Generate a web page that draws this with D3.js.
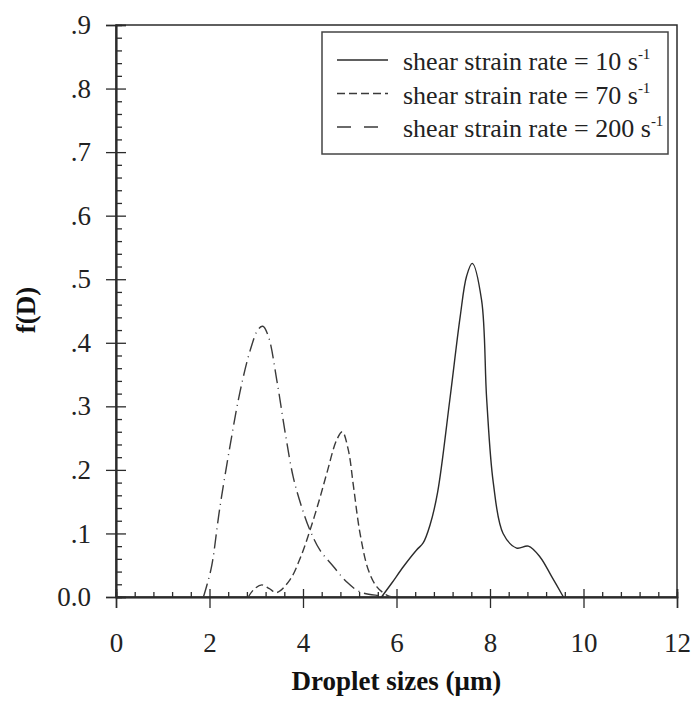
<!doctype html>
<html>
<head>
<meta charset="UTF-8" />
<script src="https://d3js.org/d3.v7.min.js"></script>
<style>
  body { margin: 0; background: #fff; }
  svg { display: block; font-family: "Liberation Serif", "Times New Roman", serif; }
</style>
</head>
<body>
<svg id="chart" width="694" height="705"></svg>
<script>
// droplet size distributions
const sizes10 = [5.68, 5.9, 6.15, 6.43, 6.57, 6.72, 6.88, 7.14, 7.36, 7.5, 7.62, 7.82, 7.93, 8.07, 8.28, 8.57, 8.82, 9.07, 9.32, 9.57];
const f10     = [0, 0.022, 0.048, 0.074, 0.085, 0.114, 0.165, 0.31, 0.44, 0.505, 0.525, 0.467, 0.31, 0.18, 0.10, 0.077, 0.08, 0.063, 0.032, 0];

const sizes70 = [2.83, 2.95, 3.12, 3.28, 3.44, 3.72, 3.95, 4.15, 4.35, 4.51, 4.72, 4.84, 4.97, 5.08, 5.22, 5.40, 5.58, 5.79, 5.9];
const f70     = [0, 0.012, 0.019, 0.013, 0.007, 0.027, 0.063, 0.105, 0.153, 0.195, 0.247, 0.26, 0.231, 0.174, 0.10, 0.042, 0.016, 0.003, 0];

const sizes200 = [1.87, 1.95, 2.05, 2.22, 2.44, 2.65, 2.87, 3.04, 3.14, 3.26, 3.44, 3.62, 3.79, 3.97, 4.15, 4.36, 4.65, 4.93, 5.22, 5.65, 5.86];
const f200     = [0, 0.02, 0.05, 0.14, 0.238, 0.322, 0.388, 0.421, 0.426, 0.41, 0.341, 0.258, 0.189, 0.142, 0.105, 0.074, 0.048, 0.024, 0.008, 0.002, 0];

const seriesRates = ["10", "70", "200"];
const xTicks = [0, 2, 4, 6, 8, 10, 12];
const yTicks = [0, 0.1, 0.2, 0.3, 0.4, 0.5, 0.6, 0.7, 0.8, 0.9];
const yTickLabels = ["0.0", ".1", ".2", ".3", ".4", ".5", ".6", ".7", ".8", ".9"];

(function(){
  "use strict";

  const svg = d3.select("#chart");
  const ink = "#2b2b2b";

  const left = 116, right = 677, top = 25, bottom = 597;
  const x = d3.scaleLinear().domain([0, 12]).range([left, right]);
  const y = d3.scaleLinear().domain([0, 0.9]).range([bottom, top]);

  const xMinor = d3.range(0, 12.001, 0.4).filter(v => Math.abs(v / 2 - Math.round(v / 2)) > 0.01);
  const yMinor = d3.range(0, 0.9001, 0.02).filter(v => Math.abs(v * 10 - Math.round(v * 10)) > 0.01);

  // frame
  svg.append("rect")
     .attr("x", left).attr("y", top)
     .attr("width", right - left).attr("height", bottom - top)
     .attr("fill", "none").attr("stroke", ink).attr("stroke-width", 1.5);

  // x axis: majors below with labels, majors + minors above (inside)
  svg.append("g").attr("transform", "translate(0," + bottom + ")")
     .call(d3.axisBottom(x).tickValues(xTicks).tickSize(11).tickPadding(25).tickFormat(d3.format("d")));
  svg.append("g").attr("transform", "translate(0," + bottom + ")")
     .call(d3.axisTop(x).tickValues(xTicks).tickSize(8).tickFormat(""));
  svg.append("g").attr("transform", "translate(0," + bottom + ")")
     .call(d3.axisTop(x).tickValues(xMinor).tickSize(5).tickFormat(""));

  // y axis
  svg.append("g").attr("transform", "translate(" + left + ",0)")
     .call(d3.axisLeft(y).tickValues(yTicks).tickSize(10).tickPadding(15).tickFormat((d, i) => yTickLabels[i]));
  svg.append("g").attr("transform", "translate(" + left + ",0)")
     .call(d3.axisRight(y).tickValues(yTicks).tickSize(10).tickFormat(""));
  svg.append("g").attr("transform", "translate(" + left + ",0)")
     .call(d3.axisRight(y).tickValues(yMinor).tickSize(6).tickFormat(""));

  svg.selectAll(".domain").attr("stroke", ink).attr("stroke-width", 1.5);
  svg.selectAll(".tick line").attr("stroke", ink).attr("stroke-width", 1.3);
  svg.selectAll(".tick text")
     .attr("font-family", "'Liberation Serif', serif")
     .attr("font-size", 27).attr("fill", "#222");

  // axis titles
  svg.append("text")
     .attr("x", (left + right) / 2).attr("y", 690)
     .attr("text-anchor", "middle")
     .attr("font-size", 27).attr("font-weight", "bold").attr("fill", "#111")
     .text("Droplet sizes (\u03bcm)");

  svg.append("text")
     .attr("transform", "translate(35,310) rotate(-90)")
     .attr("text-anchor", "middle")
     .attr("font-size", 27).attr("font-weight", "bold").attr("fill", "#111")
     .text("f(D)");

  // curves
  const line = d3.line()
     .x(d => x(d[0]))
     .y(d => y(d[1]))
     .curve(d3.curveCatmullRom.alpha(0.5));

  const series = [
    { rate: seriesRates[0], pts: d3.zip(sizes10, f10),   dash: null,        color: "#2b2b2b" },
    { rate: seriesRates[1], pts: d3.zip(sizes70, f70),   dash: "8,4",       color: "#3a3a3a" },
    { rate: seriesRates[2], pts: d3.zip(sizes200, f200), dash: "14,5,1,5",  color: "#3a3a3a" }
  ];

  svg.append("g").selectAll("path")
     .data(series)
     .enter().append("path")
     .attr("d", d => line(d.pts))
     .attr("fill", "none")
     .attr("stroke", d => d.color)
     .attr("stroke-width", 1.4)
     .attr("stroke-dasharray", d => d.dash);

  // legend
  const legend = svg.append("g");
  legend.append("rect")
     .attr("x", 322).attr("y", 32)
     .attr("width", 346).attr("height", 122)
     .attr("fill", "#fff").attr("stroke", "#444").attr("stroke-width", 1.5);

  const legendDash = [null, "8,4", "14,13"];
  const rows = legend.selectAll("g.row")
     .data(series)
     .enter().append("g")
     .attr("class", "row")
     .attr("transform", (d, i) => "translate(0," + (60 + i * 33.5) + ")");

  rows.append("line")
     .attr("x1", 337).attr("x2", (d, i) => i === 2 ? 380 : 388)
     .attr("y1", 0).attr("y2", 0)
     .attr("stroke", d => d.color).attr("stroke-width", 1.3)
     .attr("stroke-dasharray", (d, i) => legendDash[i]);

  const label = rows.append("text")
     .attr("x", 403).attr("y", 10)
     .attr("font-size", 26).attr("fill", "#222");
  label.append("tspan").text(d => "shear strain rate = " + d.rate + " s");
  label.append("tspan").attr("dy", -11).attr("font-size", 15).text("-1");
})();
</script>
</body>
</html>
